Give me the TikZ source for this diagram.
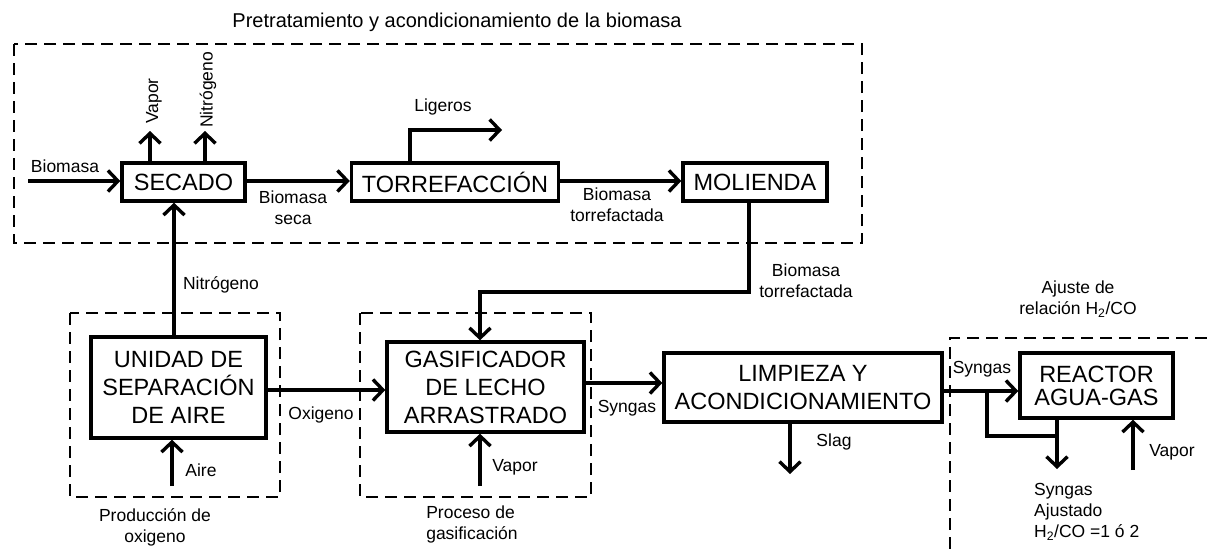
\documentclass[tikz,border=0pt]{standalone}
\usepackage{fontspec}
\setmainfont{Liberation Sans}
\usetikzlibrary{arrows.meta}
\begin{document}
\begin{tikzpicture}[x=1pt,y=-1pt,
  box/.style={rectangle,draw=black,line width=3.4pt,inner sep=0pt,align=center,font=\fontsize{23.5}{28}\selectfont},
  lbl/.style={inner sep=0pt,align=center,font=\fontsize{17.5}{21}\selectfont},
  flow/.style={line width=3.4pt,-{Straight Barb[length=10pt,width=21pt]}},
  pipe/.style={line width=3.4pt},
  zone/.style={line width=2.2pt,dash pattern=on 12pt off 7pt}]
\useasboundingbox (0,0) rectangle (1207,549);
% zonas
\draw[zone] (14,44) rectangle (862,243);
\draw[zone] (70,313) rectangle (280,497);
\draw[zone] (360,313) rectangle (591,497);
\draw[zone] (1207,338) -| (950,549);
\node[lbl,font=\fontsize{20}{24}\selectfont] (titulo) at (457,22) {Pretratamiento y acondicionamiento de la biomasa};
\node[lbl] (zprod) at (155,527) {Producción de\\oxigeno};
\node[lbl,align=left] (zgas) at (472,524) {Proceso de\\gasificación};
\node[lbl] (zaju) at (1078,299) {Ajuste de\\relación H\textsubscript{2}/CO};
% equipos
\node[box,minimum width=123,minimum height=38] (secado) at (183.5,182) {SECADO};
\node[box,minimum width=207,minimum height=38] (torre) at (455,182) {TORREFACCIÓN};
\node[box,minimum width=144,minimum height=38] (molienda) at (755,182) {MOLIENDA};
\node[box,minimum width=175,minimum height=101] (unidad) at (178.5,387.5) {UNIDAD DE\\SEPARACIÓN\\DE AIRE};
\node[box,minimum width=197,minimum height=90] (gasif) at (485.5,387) {GASIFICADOR\\DE LECHO\\ARRASTRADO};
\node[box,minimum width=278,minimum height=69] (limpieza) at (803,387.5) {LIMPIEZA Y\\ACONDICIONAMIENTO};
\node[box,minimum width=153,minimum height=65,font=\fontsize{23.5}{23}\selectfont] (reactor) at (1096.5,385.5) {REACTOR\\AGUA-GAS};
% puntos libres
\coordinate (bioin) at (28,181);
\coordinate (vapout) at (150,131);
\coordinate (nitout) at (205,131);
\coordinate (nitx) at (174,0);
\coordinate (ligx) at (410,0);
\coordinate (ligout) at (502,130);
\coordinate (mbend) at (749,292);
\coordinate (airein) at (172,486);
\coordinate (oxy) at (0,390);
\coordinate (vapin) at (480,486);
\coordinate (syn1) at (0,383);
\coordinate (slag) at (790,474);
\coordinate (syn2) at (0,391);
\coordinate (brote) at (987,391);
\coordinate (union) at (1057,436);
\coordinate (synout) at (1057,469);
\coordinate (vapin2) at (1133,470);
% flujos
\draw[flow] (bioin) -- (secado.west |- bioin);
\draw[flow] (secado.north -| vapout) -- (vapout);
\draw[flow] (secado.north -| nitout) -- (nitout);
\draw[flow] (secado.east |- bioin) -- (torre.west |- bioin);
\draw[flow] (torre.north -| ligx) |- (ligout);
\draw[flow] (torre.east |- bioin) -- (molienda.west |- bioin);
\draw[flow] (molienda.south -| mbend) -- (mbend) -| (gasif.north -| vapin);
\draw[flow] (unidad.north -| nitx) -- (secado.south -| nitx);
\draw[flow] (airein) -- (unidad.south -| airein);
\draw[flow] (unidad.east |- oxy) -- (gasif.west |- oxy);
\draw[flow] (vapin) -- (gasif.south -| vapin);
\draw[flow] (gasif.east |- syn1) -- (limpieza.west |- syn1);
\draw[flow] (limpieza.south -| slag) -- (slag);
\draw[flow] (limpieza.east |- syn2) -- (reactor.west |- syn2);
\draw[pipe] (brote) |- (union);
\draw[flow] (reactor.south -| synout) -- (synout);
\draw[flow] (vapin2) -- (reactor.south -| vapin2);
% etiquetas
\node[lbl] (lbio) at (65,166) {Biomasa};
\node[lbl,rotate=90] (lvap) at (154,101) {Vapor};
\node[lbl,rotate=90] (lnit) at (208,90) {Nitrógeno};
\node[lbl] (lseca) at (293,208) {Biomasa\\seca};
\node[lbl] (llig) at (443,107) {Ligeros};
\node[lbl] (ltor) at (617,205) {Biomasa\\torrefactada};
\node[lbl] (ltor2) at (806,281) {Biomasa\\torrefactada};
\node[lbl] (lnit2) at (221,285) {Nitrógeno};
\node[lbl] (lox) at (321,415) {Oxigeno};
\node[lbl] (laire) at (201,470) {Aire};
\node[lbl] (lvap2) at (515,467) {Vapor};
\node[lbl] (lsyn) at (627,408) {Syngas};
\node[lbl] (lslag) at (834,442) {Slag};
\node[lbl] (lsyn2) at (982,369) {Syngas};
\node[lbl] (lvap3) at (1172,452) {Vapor};
\node[lbl,align=left,anchor=west] (lsynaj) at (1034,512) {Syngas\\Ajustado\\H\textsubscript{2}/CO =1 ó 2};
\end{tikzpicture}
\end{document}
